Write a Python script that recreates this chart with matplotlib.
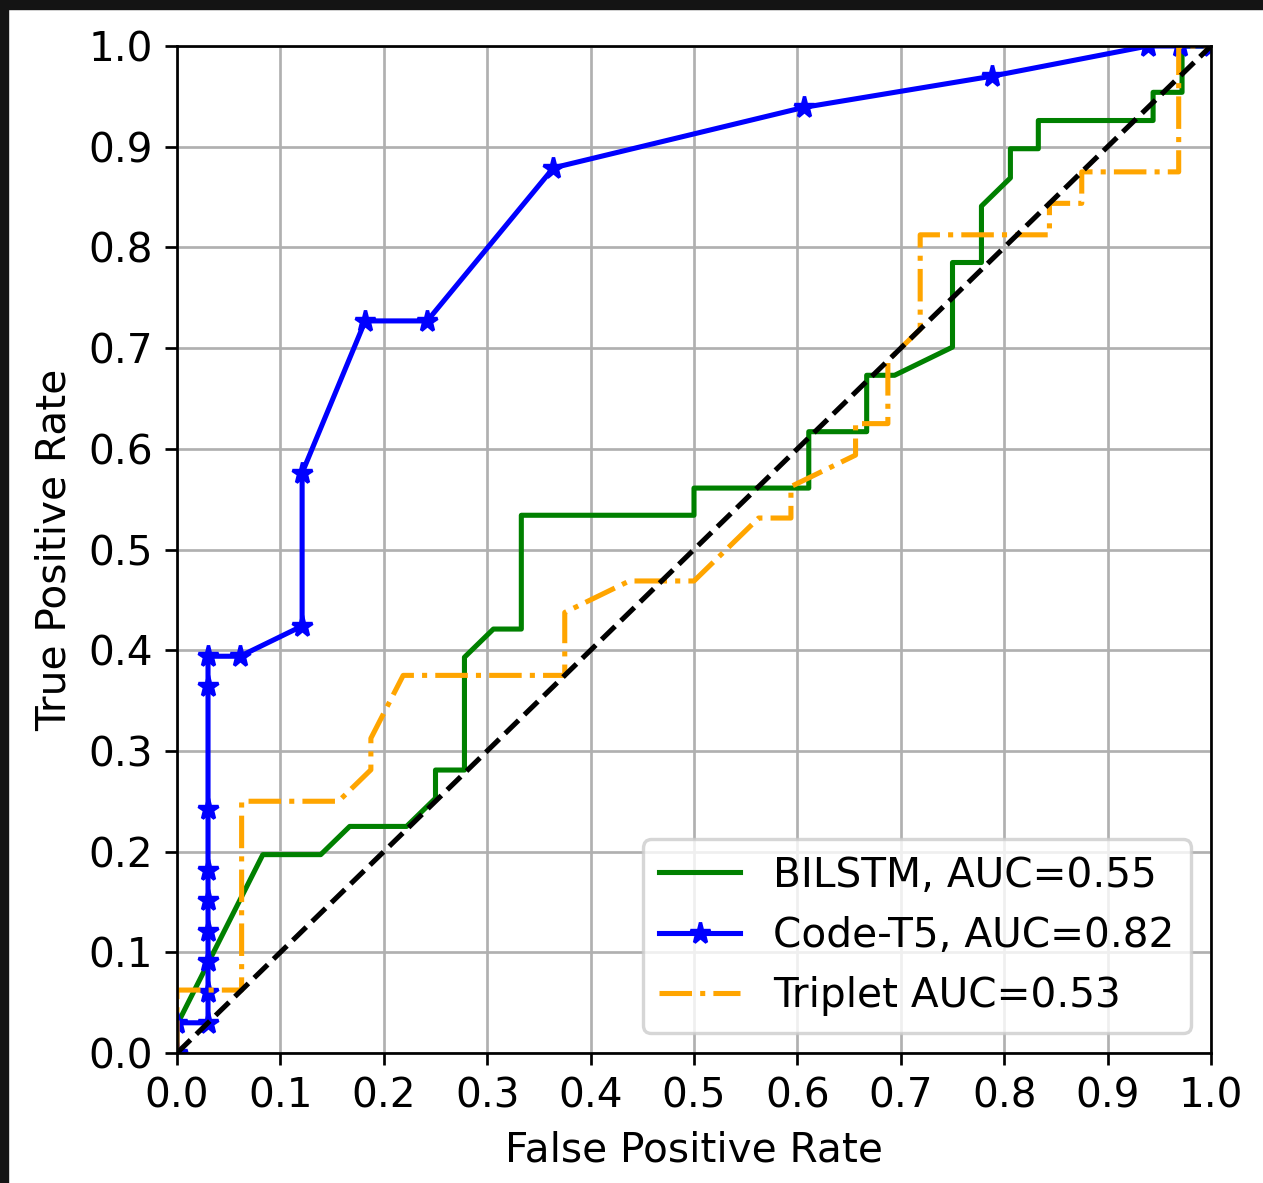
import matplotlib
matplotlib.use("Agg")
import matplotlib.pyplot as plt
from matplotlib.patches import Rectangle

# ---- data ----
bilstm_fpr = [0.0, 0.0, 0.083, 0.139, 0.167, 0.222, 0.250, 0.250, 0.278, 0.278,
              0.306, 0.333, 0.333, 0.500, 0.500, 0.611, 0.611, 0.667, 0.667, 0.694,
              0.750, 0.750, 0.778, 0.778, 0.806, 0.806, 0.833, 0.833, 0.944, 0.944,
              0.972, 0.972, 1.0]
bilstm_tpr = [0.0, 0.028, 0.197, 0.197, 0.225, 0.225, 0.253, 0.281, 0.281, 0.393,
              0.421, 0.421, 0.534, 0.534, 0.561, 0.561, 0.617, 0.617, 0.673, 0.673,
              0.701, 0.785, 0.785, 0.841, 0.869, 0.898, 0.898, 0.926, 0.926, 0.954,
              0.954, 1.0, 1.0]

codet5_fpr = [0.0, 0.0, 0.030, 0.030, 0.030, 0.030, 0.030, 0.030, 0.030, 0.030,
              0.030, 0.061, 0.121, 0.121, 0.182, 0.242, 0.364, 0.606, 0.788, 0.939,
              0.970, 1.0]
codet5_tpr = [0.0, 0.030, 0.030, 0.061, 0.091, 0.121, 0.152, 0.182, 0.242, 0.364,
              0.394, 0.394, 0.424, 0.576, 0.727, 0.727, 0.879, 0.939, 0.970, 1.0,
              1.0, 1.0]

triplet_fpr = [0.0, 0.0, 0.0625, 0.0625, 0.15625, 0.1875, 0.1875, 0.21875, 0.375, 0.375,
               0.4375, 0.5, 0.5625, 0.59375, 0.59375, 0.65625, 0.65625, 0.6875, 0.6875,
               0.71875, 0.71875, 0.84375, 0.84375, 0.875, 0.875, 0.96875, 0.96875, 1.0]
triplet_tpr = [0.0, 0.0625, 0.0625, 0.25, 0.25, 0.28125, 0.3125, 0.375, 0.375, 0.4375,
               0.46875, 0.46875, 0.53125, 0.53125, 0.5625, 0.59375, 0.625, 0.625, 0.6875,
               0.71875, 0.8125, 0.8125, 0.84375, 0.84375, 0.875, 0.875, 1.0, 1.0]

labels = ["BILSTM, AUC=0.55", "Code-T5, AUC=0.82", "Triplet AUC=0.53"]
ticks = [0.0, 0.1, 0.2, 0.3, 0.4, 0.5, 0.6, 0.7, 0.8, 0.9, 1.0]

W, H, DPI = 1263, 1183, 244
fig = plt.figure(figsize=(W / DPI, H / DPI), dpi=DPI)
ax = fig.add_axes([177 / W, 1 - 1053 / H, (1211 - 177) / W, (1053 - 46) / H])

ax.plot(bilstm_fpr, bilstm_tpr, color="green", lw=1.5, label=labels[0])
ax.plot(codet5_fpr, codet5_tpr, color="blue", lw=1.5, marker="*", markersize=6.5,
        label=labels[1])
ax.plot(triplet_fpr, triplet_tpr, color="orange", lw=1.5, linestyle="-.",
        label=labels[2])
ax.plot([0, 1], [0, 1], "k--", lw=1.5)

ax.set_xlim(0, 1)
ax.set_ylim(0, 1)
ax.set_xticks(ticks)
ax.set_yticks(ticks)
ax.set_xticklabels([f"{t:.1f}" for t in ticks])
ax.set_yticklabels([f"{t:.1f}" for t in ticks])
ax.tick_params(labelsize=12)
ax.grid(True)
ax.set_xlabel("False Positive Rate", fontsize=12)
ax.set_ylabel("True Positive Rate", fontsize=12)
ax.legend(loc="lower right", fontsize=12)

# dark screenshot frame at top and left
fig.patches.append(Rectangle((0, 1 - 8 / H), 1, 8 / H, transform=fig.transFigure,
                             color="#141414", zorder=10))
fig.patches.append(Rectangle((0, 0), 7 / W, 1, transform=fig.transFigure,
                             color="#141414", zorder=10))

fig.savefig("out.png", dpi=DPI)
